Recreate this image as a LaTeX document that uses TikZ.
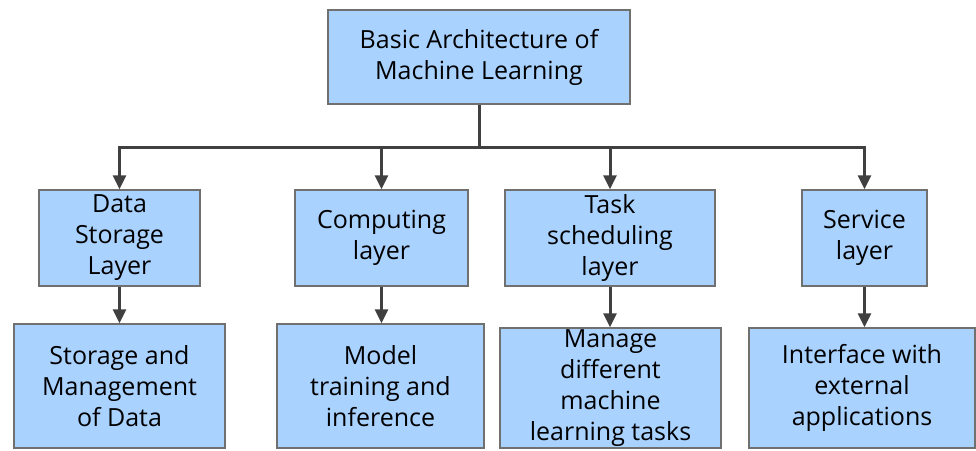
\documentclass[tikz,border=0pt]{standalone}
\usepackage{fontspec}
\setmainfont{Open Sans}
\usepackage{color}
\definecolor{myblue}{RGB}{169,210,255}
\definecolor{myborder}{RGB}{112,112,112}
\definecolor{myline}{RGB}{64,64,64}
\usepackage{tikz}
\usetikzlibrary{arrows.meta,positioning,calc}
\tikzstyle{layerbox}=[draw=myborder,fill=myblue,line width=1.5pt,rectangle,inner sep=0pt,align=center,font=\fontsize{25}{31}\selectfont]
\tikzstyle{link}=[draw=myline,line width=3pt,-{Triangle[length=14pt,width=13pt]}]

\begin{document}
\begin{tikzpicture}[x=1pt,y=-1pt]
\useasboundingbox (0,0) rectangle (976,450);
\draw (479, 57) node [layerbox, minimum width=302pt, minimum height=94pt] (root) {Basic Architecture of\\Machine Learning};
\draw (119.5, 238) node [layerbox, minimum width=161pt, minimum height=96pt] (data) {Data\\Storage\\Layer};
\draw (381.5, 238) node [layerbox, minimum width=173pt, minimum height=96pt] (comp) {Computing\\layer};
\draw (610, 238) node [layerbox, minimum width=210pt, minimum height=96pt] (task) {Task\\scheduling\\layer};
\draw (864.5, 238) node [layerbox, minimum width=125pt, minimum height=96pt] (serv) {Service\\layer};
\draw (119.5, 386) node [layerbox, minimum width=211pt, minimum height=124pt] (store) {Storage and\\Management\\of Data};
\draw (380.5, 386) node [layerbox, minimum width=207pt, minimum height=124pt] (model) {Model\\training and\\inference};
\draw (610.5, 388) node [layerbox, minimum width=221pt, minimum height=120pt] (manage) {Manage\\different\\machine\\learning tasks};
\draw (862, 388) node [layerbox, minimum width=226pt, minimum height=120pt] (iface) {Interface with\\external\\applications};
\coordinate (bus) at (479, 147);
\draw[draw=myline, line width=3pt] (root.south) -- (bus);
\draw[link] (bus) -| (data.north);
\draw[link] (bus) -| (comp.north);
\draw[link] (bus) -| (task.north);
\draw[link] (bus) -| (serv.north);
\draw[link] (data.south) -- (data.south |- store.north);
\draw[link] (comp.south) -- (comp.south |- model.north);
\draw[link] (task.south) -- (task.south |- manage.north);
\draw[link] (serv.south) -- (serv.south |- iface.north);
\end{tikzpicture}
\end{document}
